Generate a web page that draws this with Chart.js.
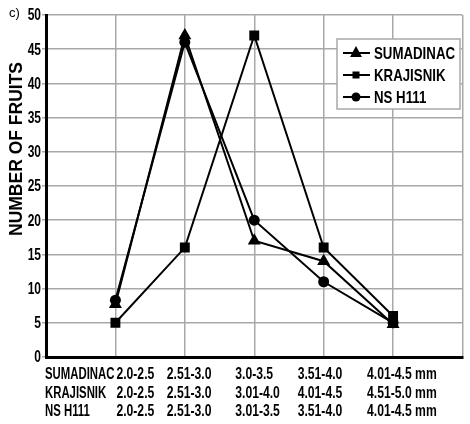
<!DOCTYPE html>
<html>
<head>
<meta charset="utf-8">
<script src="https://cdn.jsdelivr.net/npm/chart.js@4.4.0/dist/chart.umd.min.js"></script>
<style>
  body { margin: 0; background: #fff; }
  #wrap { width: 470px; height: 424px; }
</style>
</head>
<body>
<div id="wrap"><canvas id="graph" width="470" height="424"></canvas></div>
<script>
'use strict';

// 品種名
const varieties = ['SUMADINAC', 'KRAJISNIK', 'NS H111'];
// 各品種の階級ラベル (mm)
const sumadinacClasses = ['2.0-2.5', '2.51-3.0', '3.0-3.5', '3.51-4.0', '4.01-4.5 mm'];
const krajisnikClasses = ['2.0-2.5', '2.51-3.0', '3.01-4.0', '4.01-4.5', '4.51-5.0 mm'];
const nsClasses = ['2.0-2.5', '2.51-3.0', '3.01-3.5', '3.51-4.0', '4.01-4.5 mm'];
// 果実数
const sumadinacValues = [7.7, 47, 17, 14, 4.8];
const krajisnikValues = [5, 16, 47, 16, 6];
const nsValues = [8.3, 46, 20, 11, 5];
// y軸の目盛り
const yMin = 0, yMax = 50, yStep = 5;

const fontFam = '"Liberation Sans", Arial, sans-serif';

function toPoints(values) {
    return values.map((v, i) => ({ x: i + 1, y: v }));
}

// 横に縮めた文字 (Arial Narrow の代わり)
function narrowText(ctx, text, x, y, align, sx) {
    ctx.save();
    ctx.translate(x, y);
    ctx.scale(sx, 1);
    ctx.textAlign = align;
    ctx.fillText(text, 0, 0);
    ctx.restore();
}

const classRows = [sumadinacClasses, krajisnikClasses, nsClasses];
const markerStyles = ['triangle', 'rect', 'circle'];
const markerRadius = [7.5, 7, 5.5];

// 凡例などを手で描く
const extras = {
    id: 'extras',
    afterDraw(chart) {
        const ctx = chart.ctx;
        const xs = chart.scales.x;
        const ys = chart.scales.y;
        const area = chart.chartArea;
        ctx.save();
        ctx.fillStyle = '#000';
        ctx.textBaseline = 'middle';

        // c)
        ctx.font = '13px ' + fontFam;
        ctx.textAlign = 'left';
        ctx.fillText('c)', 9, 13);

        // y軸の目盛りラベル
        ctx.font = 'bold 16px ' + fontFam;
        ys.ticks.forEach(function(t) {
            narrowText(ctx, String(t.value), 41, ys.getPixelForValue(t.value) + 1, 'right', 0.75);
        });

        // y軸タイトル
        ctx.save();
        ctx.translate(17, 149);
        ctx.rotate(-Math.PI / 2);
        ctx.font = 'bold 17.5px ' + fontFam;
        ctx.textAlign = 'center';
        ctx.fillText('NUMBER OF FRUITS', 0, 0);
        ctx.restore();

        // x軸の階級ラベル (3行)
        const colShift = [1, -18, -19, -26, -26];
        const rowY = [18, 37, 55];
        ctx.font = 'bold 16px ' + fontFam;
        for (let r = 0; r < varieties.length; r++) {
            const y = area.bottom + rowY[r];
            narrowText(ctx, varieties[r], 45, y, 'left', 0.71);
            for (let c = 0; c < classRows[r].length; c++) {
                narrowText(ctx, classRows[r][c], xs.getPixelForValue(c + 1) + colShift[c], y, 'left', 0.76);
            }
        }

        // 凡例
        const lx = 337, ly = 39, lw = 123, lh = 70;
        ctx.fillStyle = '#fff';
        ctx.fillRect(lx, ly, lw, lh);
        ctx.strokeStyle = '#a8a8a8';
        ctx.lineWidth = 1.5;
        ctx.strokeRect(lx, ly, lw, lh);
        ctx.font = 'bold 17px ' + fontFam;
        chart.data.datasets.forEach(function(ds, i) {
            const y = ly + 14 + i * 22;
            ctx.strokeStyle = '#000';
            ctx.lineWidth = 2;
            ctx.beginPath();
            ctx.moveTo(343, y);
            ctx.lineTo(370, y);
            ctx.stroke();
            ctx.fillStyle = '#000';
            const mx = 356;
            if (ds.pointStyle === 'triangle') {
                ctx.beginPath();
                ctx.moveTo(mx, y - 7);
                ctx.lineTo(mx + 6, y + 4);
                ctx.lineTo(mx - 6, y + 4);
                ctx.closePath();
                ctx.fill();
            } else if (ds.pointStyle === 'rect') {
                ctx.fillRect(mx - 3.5, y - 3.5, 7, 7);
            } else {
                ctx.beginPath();
                ctx.arc(mx, y, 4.5, 0, Math.PI * 2);
                ctx.fill();
            }
            narrowText(ctx, ds.label, 374, y + 1, 'left', 0.78);
        });
        ctx.restore();
    }
};

const seriesValues = [sumadinacValues, krajisnikValues, nsValues];

let context = document.querySelector('#graph').getContext('2d');
let chart = new Chart(context, {
    type: 'line',
    data: {
        datasets: varieties.map((name, i) => ({
            label: name,
            data: toPoints(seriesValues[i]),
            borderColor: '#000',
            backgroundColor: '#000',
            borderWidth: 2,
            pointStyle: markerStyles[i],
            pointRadius: markerRadius[i],
            pointHoverRadius: markerRadius[i],
            pointBorderWidth: 0,
            tension: 0
        }))
    },
    options: {
        responsive: false,
        animation: false,
        layout: { padding: { top: 15, right: 1, left: 0, bottom: 0 } },
        plugins: {
            legend: { display: false },
            tooltip: { enabled: false }
        },
        scales: {
            x: {
                type: 'linear',
                min: 0,
                max: varieties.length + 3,
                afterBuildTicks(scale) {
                    scale.ticks = [0, 1, 2, 3, 4, 5, 6].map(v => ({ value: v }));
                },
                afterFit(scale) { scale.height = 67; },
                ticks: { display: false },
                grid: { color: '#a8a8a8', lineWidth: 1.5, drawTicks: false },
                border: { color: '#000', width: 3 }
            },
            y: {
                min: yMin,
                max: yMax,
                afterFit(scale) { scale.width = 46; },
                ticks: {
                    stepSize: yStep,
                    display: false
                },
                grid: { color: '#a8a8a8', lineWidth: 1.5, tickLength: 4 },
                border: { color: '#000', width: 3 }
            }
        }
    },
    plugins: [extras]
});
</script>
</body>
</html>
